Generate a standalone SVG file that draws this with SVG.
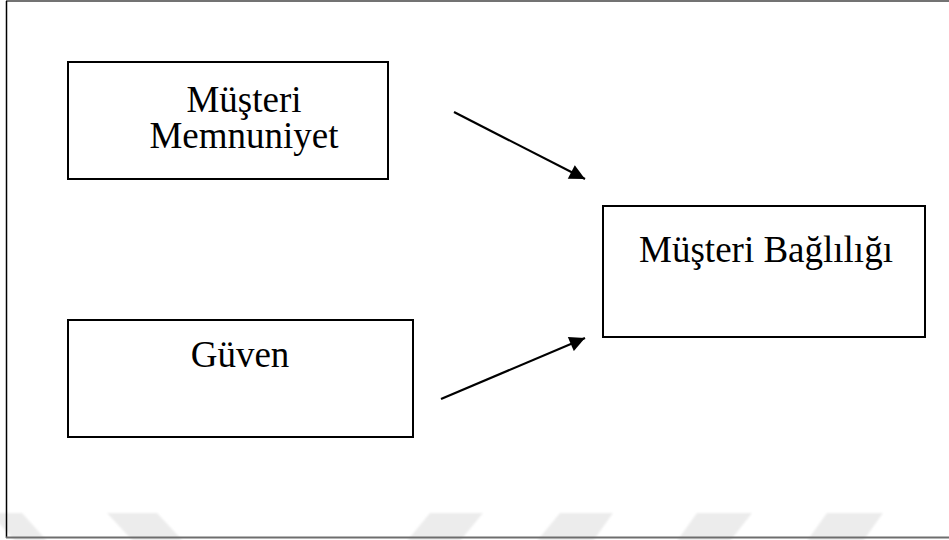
<svg xmlns="http://www.w3.org/2000/svg" width="949" height="540" viewBox="0 0 949 540">
  <defs>
    <style>
      .box { fill: #ffffff; stroke: #000000; stroke-width: 2; }
      .lbl { font-family: "Liberation Serif", "Times New Roman", serif; font-size: 37px; fill: #000000; text-anchor: middle; }
      .conn { stroke: #000000; stroke-width: 2.2; fill: none; marker-end: url(#arrow); }
      .mark { fill: #ececec; }
    </style>
    <marker id="arrow" viewBox="0 0 10 10" refX="10" refY="5" markerWidth="8" markerHeight="7" markerUnits="strokeWidth" orient="auto">
      <path d="M0,0 L10,5 L0,10 z" fill="#000000"/>
    </marker>
    <filter id="soft" x="-10%" y="-50%" width="120%" height="200%">
      <feGaussianBlur stdDeviation="1.2"/>
    </filter>
  </defs>

  <rect x="0" y="0" width="949" height="540" fill="#ffffff"/>

  <!-- faint slanted bands along the bottom edge -->
  <g id="bands" filter="url(#soft)">
    <polygon class="mark" points="-10,513 22,513 47,541 15,541"/>
    <polygon class="mark" points="107,513 157,513 183,541 133,541"/>
    <polygon class="mark" points="430,513 483,513 460,541 407,541"/>
    <polygon class="mark" points="560,513 613,513 593,541 537,541"/>
    <polygon class="mark" points="697,513 752,513 730,541 677,541"/>
    <polygon class="mark" points="827,513 883,513 863,541 807,541"/>
  </g>

  <!-- outer frame -->
  <g id="frame">
    <line x1="6" y1="1" x2="949" y2="1" stroke="#444444" stroke-width="1.5"/>
    <line x1="6.5" y1="1" x2="6.5" y2="538" stroke="#000000" stroke-width="1.5"/>
    <line x1="6" y1="537.5" x2="949" y2="537.5" stroke="#6e6e6e" stroke-width="2.2"/>
  </g>

  <g id="node-memnuniyet">
    <rect class="box" x="68" y="62" width="320" height="117"/>
    <text class="lbl"><tspan x="244" y="112">Müşteri</tspan><tspan x="244" y="148">Memnuniyet</tspan></text>
  </g>

  <g id="node-guven">
    <rect class="box" x="68" y="320" width="345" height="117"/>
    <text class="lbl" x="240" y="367">Güven</text>
  </g>

  <g id="node-baglilik">
    <rect class="box" x="603" y="206" width="322" height="131"/>
    <text class="lbl" x="766" y="262">Müşteri Bağlılığı</text>
  </g>

  <g id="connectors">
    <line class="conn" x1="454" y1="112" x2="585" y2="179"/>
    <line class="conn" x1="441" y1="399" x2="585" y2="338"/>
  </g>
</svg>
